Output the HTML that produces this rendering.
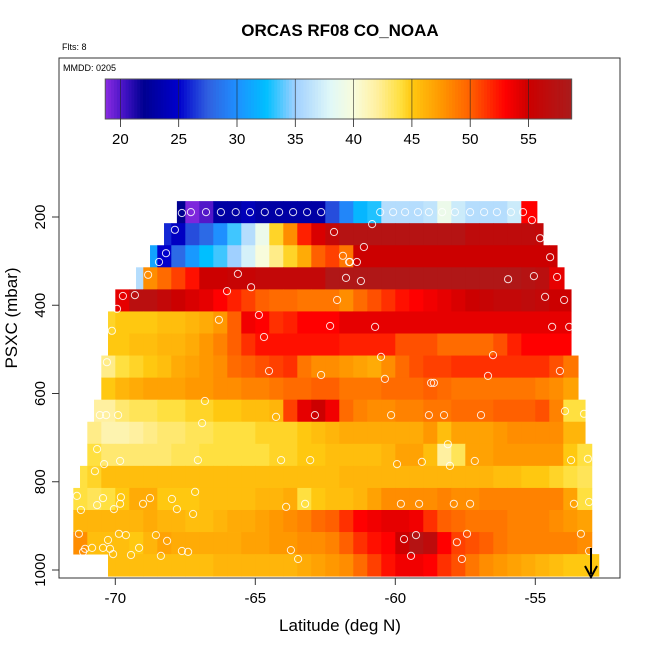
<!DOCTYPE html>
<html><head><meta charset="utf-8"><style>
html,body{margin:0;padding:0;background:#fff;}
svg{display:block;font-family:"Liberation Sans",Arial,sans-serif;}
</style></head><body>
<svg id="chart" width="650" height="650" viewBox="0 0 650 650" xmlns="http://www.w3.org/2000/svg">
<rect width="650" height="650" fill="#fff"/>
<text x="340" y="36" text-anchor="middle" font-size="17" font-weight="bold">ORCAS RF08 CO_NOAA</text>
<text x="62" y="50" font-size="9">Flts: 8</text>
<g id="cells"></g>
<g id="pts"></g>
<g id="cbar"></g>
<rect x="59" y="58" width="561" height="520" fill="none" stroke="#333" stroke-width="1"/>
<text x="63" y="71" font-size="9">MMDD: 0205</text>
<g id="xaxis"></g>
<g id="yaxis"></g>
<text x="340" y="631" text-anchor="middle" font-size="17">Latitude (deg N)</text>
<text transform="translate(17,318) rotate(-90)" text-anchor="middle" font-size="17">PSXC (mbar)</text>
<g>
<line x1="591" y1="548" x2="591" y2="574" stroke="#000" stroke-width="2"/>
<path d="M585,566 L591,577 L597,566" fill="none" stroke="#000" stroke-width="2"/>
</g>
</svg>
<script>
// ---- data ----
const xTicks = [-70, -65, -60, -55];
const yTicks = [200, 400, 600, 800, 1000];
const cbTicks = [20, 25, 30, 35, 40, 45, 50, 55];
const pressureCenters = [189,239,289,339,389,439,489,539,589,639,689,739,789,839,889,939,989];
const rowLo = [-67.80,-68.26,-68.76,-69.26,-70.01,-70.26,-70.26,-70.51,-70.51,-70.76,-71.01,-71.01,-71.26,-71.51,-71.51,-71.51,-70.26];
const rowHi = [-54.94,-54.72,-54.22,-53.97,-53.72,-53.72,-53.72,-53.47,-53.47,-53.22,-53.22,-52.98,-52.98,-52.98,-52.98,-52.98,-52.73];
const rowStart = [7,6,5,4,3,2,2,2,2,1,1,1,0,0,0,0,2];
const row0 = [22,19,20,23,23,24,23,23,23,23,23,27,29.5,32,33,36,36,36,36.5,39,37,36,36,36,37,53];
const row1 = [26,24.5,27,28,30,33.5,36,39,44.5,48,52,54.5,56,57.5,57.5,57.5,57.5,57.5,57.5,57.5,57.5,57.5,56.5,56.5,56.5,56.5,56.5,56];
const row2 = [31,25,28,30.5,32.5,33.5,35,37.5,40,42.5,44.5,46.5,50,51,49,55,55,55,55,55,55,55,55,55,55,55,55,55,55,55];
const row3 = [36,48,49.5,51,52.5,55,55,55.5,55.5,56,56,56,56,56,58,58,58,58,58,58,58,58,58,58,58,58,58,58,57.5,57,54];
const row4 = [54,57,57,56,55,54.5,54,53,52,51,50,49.5,49.5,49,49,49,48,49.5,50.5,51.5,52.5,53,53.5,54,54.5,55,55.5,56,56,56.5,56,55,55];
const row5 = [44.5,45,45,45,45.5,45.5,46,46.5,47.5,50,53.5,53,51.5,52,53,53,53,54,54,54,54,54,54,54,54,54,54,54,54,54,54,54,54,54];
const row6 = [45,45,45.5,45.5,46,46,46.5,47.5,48.5,50,51.5,52.5,52.5,52.5,52.5,52.5,52.5,52,52,52,52,50.5,50.5,50.5,49.5,49.5,49.5,49.5,50.5,52,53,53,53,53];
const row7 = [42.5,44,44.5,45,45.5,46.5,47,47.5,48,49.5,50,50.5,51,51.5,49,48,48,47.5,47,46.5,48,49.5,50.5,51,51,51.5,51.5,51.5,51.5,51.5,51.5,51.5,50.5,49];
const row8 = [45,46,46.5,47,47,47,47.5,47.5,48,48,48.5,48.5,49,49.5,49.5,50,50,49,49,49,49.5,49.5,49.5,50,49.5,49,49,49,49,49,49,48.5,48,47];
const row9 = [42,42,43,43.5,43.5,44,44,44.5,44.5,45,45,45.5,45.5,46,51,54,55,53.5,49.5,48.5,48,48,48.5,48.5,49,49,49.5,49.5,49.5,50,50,50,50.5,48.5,44];
const row10 = [42.5,41.5,41.5,42,42.5,43,43,43.5,43.5,44,44,44,44.5,44.5,44.5,45,45.5,46,46.5,46.5,46.5,46.5,46.5,46.5,47.5,45.5,47,47,47,47.5,48,48,48,48,46];
const row11 = [44,43,43,43,43,43,43.5,43.5,44,44,44,44,44,44.5,44.5,45,45,45.5,45.5,45.5,45.5,46,47,47,45.5,42,43.5,47,47,47.5,47.5,47.5,47.5,47.5,45,44];
const row12 = [44,44.5,45.5,45.5,45.5,45.5,45.5,45.5,45.5,45.5,45.5,45.5,45.5,45.5,45.5,45.5,45.5,45.5,45.5,46,46,46,46,46,46,46,46,46,46,46,45.5,45.5,45,45,44.5,44,43.5];
const row13 = [44,43.5,44,45,46.5,46.5,45,45,45,45.5,45.5,45.5,45.5,46,46,46.5,44,45,45.5,45.5,46,47,48,48,48,48,48.5,48,48,48.5,48.5,48.5,48.5,48.5,48.5,47,44];
const row14 = [46,46,46,46,46,46.5,46,46,45.5,45.5,46,46.5,46.5,47,47.5,48,48.5,49.5,50,51.5,53,53.5,54,54,53.5,51.5,50,49.5,49,49,49,48.5,48.5,48.5,48,47.5,47];
const row15 = [48,45.5,45.5,45.5,45,46,47,46.5,46.5,46.5,46.5,46.5,47,47,47.5,47.5,48,48,48.5,50,51.5,52.5,53,55,57.5,56.5,53,51,50.5,50,49,48.5,48.5,48.5,48.5,48.5,48];
const row16 = [45.5,45.5,45.5,45.5,45.5,45.5,45.5,45.5,46,46,46,46,46,46,46.5,47,47.5,48,49.5,51,52.5,53.5,53.5,53,51.5,50.5,49,48,47.5,47,46.5,46,45.5,45,45];
const rows = [row0,row1,row2,row3,row4,row5,row6,row7,row8,row9,row10,row11,row12,row13,row14,row15,row16];
const ptLat = [-67.62,-67.30,-66.76,-66.23,-65.70,-65.19,-64.66,-64.15,-63.65,-63.15,-62.65,-60.54,-60.08,-59.65,-59.19,-58.80,-58.33,-57.87,-57.33,-56.83,-56.37,-55.87,-55.44,
-67.87,-62.19,-68.19,-68.44,-61.87,-61.65,-68.83,-65.62,-61.76,-65.15,-69.73,-69.30,-66.01,-62.08,-69.94,-66.30,-64.87,-62.33,-70.12,-64.69,-70.30,-64.51,-62.65,
-60.83,-55.12,-54.83,-61.12,-61.62,-61.37,-54.47,-61.23,-55.97,-55.05,-54.22,-54.65,-53.97,-60.72,-54.40,-53.79,-60.51,-56.51,-54.12,-60.37,-56.69,-58.72,-58.62,
-66.80,-70.55,-70.33,-69.90,-64.26,-62.87,-66.90,-70.65,-70.40,-69.83,-67.05,-64.08,-63.04,-70.73,-71.37,-70.44,-69.80,-67.15,-70.65,-69.83,-69.01,-68.76,-67.98,-70.05,-67.80,-63.90,-63.22,-71.23,-67.22,
-71.30,-70.26,-69.87,-69.62,-68.55,-68.15,-71.08,-70.83,-70.44,-70.19,-70.08,-69.15,-69.44,-68.37,-67.62,-67.40,-63.73,-63.47,-71.15,
-60.15,-58.80,-58.26,-56.94,-53.94,-53.26,-58.12,-59.94,-59.05,-58.05,-57.16,-53.72,-53.12,-59.80,-59.15,-57.91,-57.33,-53.62,-53.08,-59.69,-59.26,-57.80,-57.44,-53.37,-53.08,-59.44,-57.62];
const ptP = [191,189,189,189,189,189,189,189,189,189,189,189,189,189,189,189,189,189,189,189,189,189,189,
229,234,282,302,288,302,331,329,338,359,379,377,368,388,408,433,422,447,458,472,529,549,558,
216,207,248,268,302,302,291,345,341,334,336,381,388,449,449,449,517,513,549,567,560,576,576,
617,649,649,649,653,649,667,726,760,753,751,751,751,776,832,837,835,823,853,850,850,837,839,862,862,857,850,864,873,
918,932,918,921,921,934,952,950,950,952,964,950,966,968,957,959,955,975,959,
649,649,649,649,640,646,715,760,755,764,753,751,748,850,850,850,850,850,846,930,921,937,918,918,957,968,975];

// ---- scales ----
const xs = lat => 115.3 + (lat + 70) * 28;
const ys = p => 217 + (p - 200) * 0.44125;
const cbx = v => 120.4 + (v - 20) * 11.66;
const stops = [[18.7,[138,43,226]],[20.5,[60,16,192]],[22,[0,0,144]],[25,[0,0,204]],[27.5,[48,96,224]],[30,[30,144,255]],[32.5,[0,191,255]],[35,[160,208,255]],[38,[224,248,248]],[40,[248,252,220]],[42,[255,240,160]],[44,[255,224,64]],[45,[255,200,16]],[47.5,[255,152,0]],[50,[255,96,0]],[52,[255,32,0]],[53,[255,0,0]],[55,[204,0,0]],[58.7,[170,28,28]]];
function col(v){
  if(v<=stops[0][0]) return 'rgb('+stops[0][1]+')';
  for(let i=1;i<stops.length;i++){
    if(v<=stops[i][0]){
      const a=stops[i-1],b=stops[i],t=(v-a[0])/(b[0]-a[0]);
      return 'rgb('+a[1].map((c,j)=>Math.round(c+(b[1][j]-c)*t)).join(',')+')';
    }
  }
  return 'rgb('+stops[stops.length-1][1]+')';
}
const NS='http://www.w3.org/2000/svg';
function mk(tag,attrs,parent){const e=document.createElementNS(NS,tag);for(const k in attrs)e.setAttribute(k,attrs[k]);parent.appendChild(e);return e;}

// ---- heatmap ----
const gC=document.getElementById('cells');
rows.forEach((vals,r)=>{
  const pTop=pressureCenters[r]-25,pBot=pressureCenters[r]+25;
  vals.forEach((v,i)=>{
    if(v==null) return;
    const k=rowStart[r]+i;
    let a=-71.5+0.5*k,b=a+0.5;
    a=Math.max(a,rowLo[r]);
    if(i===vals.length-1) b=rowHi[r]; else b=Math.min(b,rowHi[r]);
    if(b<=a) return;
    const x0=xs(a),x1=xs(b),y0=ys(pTop),y1=ys(pBot);
    const c=mk('rect',{x:x0.toFixed(2),y:y0.toFixed(2),width:(x1-x0+0.4).toFixed(2),height:(y1-y0+0.4).toFixed(2),fill:col(v)},gC);
    
    
  });
});

// ---- points ----
const gP=document.getElementById('pts');
ptLat.forEach((lat,i)=>{
  const c=mk('circle',{cx:xs(lat).toFixed(1),cy:ys(ptP[i]).toFixed(1),r:3.6,fill:'none',stroke:'#fff','stroke-opacity':0.85,'stroke-width':1},gP);
  
  
});

// ---- colorbar ----
const gB=document.getElementById('cbar');
for(let v=18.7;v<58.7;v+=0.25){
  const r=mk('rect',{x:cbx(v).toFixed(2),y:79,width:(0.25*11.66+0.4).toFixed(2),height:40,fill:col(v+0.125)},gB);
  
  
}
mk('rect',{x:cbx(18.7),y:79,width:cbx(58.7)-cbx(18.7),height:40,fill:'none',stroke:'#555','stroke-width':1},gB);
cbTicks.forEach(t=>{
  const x=cbx(t);
  mk('line',{x1:x,y1:79,x2:x,y2:119,stroke:'#222','stroke-width':0.8,'stroke-opacity':0.7},gB);
  mk('line',{x1:x,y1:119,x2:x,y2:127,stroke:'#222','stroke-width':0.8},gB);
  const tx=mk('text',{x:x,y:144,'text-anchor':'middle','font-size':15},gB);
  tx.textContent=t;
  
  
});

// ---- axes ----
const gX=document.getElementById('xaxis');
xTicks.forEach(t=>{
  const x=xs(t);
  mk('line',{x1:x,y1:578,x2:x,y2:585,stroke:'#333','stroke-width':1},gX);
  const tx=mk('text',{x:x,y:603,'text-anchor':'middle','font-size':15},gX);
  tx.textContent=t;
  
  
});
const gY=document.getElementById('yaxis');
yTicks.forEach(t=>{
  const y=ys(t);
  mk('line',{x1:52,y1:y,x2:59,y2:y,stroke:'#333','stroke-width':1},gY);
  const tx=mk('text',{transform:'translate(45,'+y+') rotate(-90)','text-anchor':'middle','font-size':15},gY);
  tx.textContent=t;
  
  
});
</script>
</body></html>
